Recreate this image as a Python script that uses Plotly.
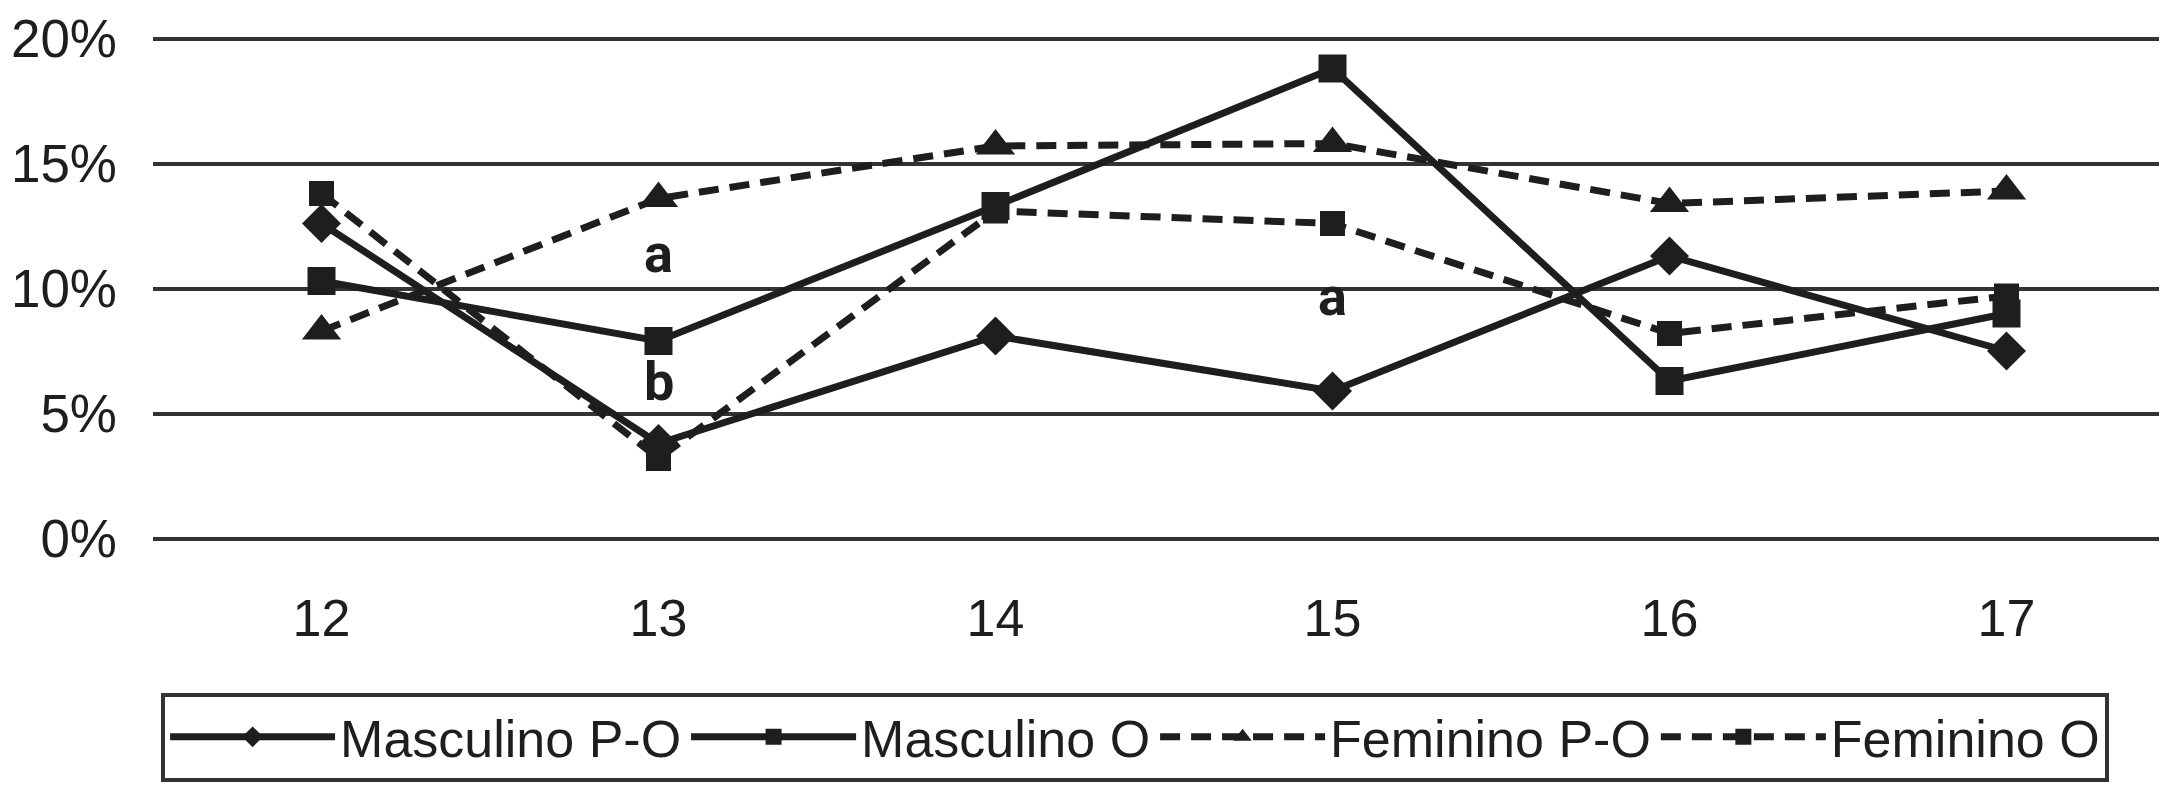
import plotly.graph_objects as go

ages = ["12", "13", "14", "15", "16", "17"]
masc_po = [12.6, 3.8, 8.1, 5.9, 11.3, 7.5]
masc_o = [10.3, 7.9, 13.3, 18.8, 6.3, 9.0]
fem_po = [8.3, 13.6, 15.7, 15.8, 13.4, 13.9]
fem_o = [13.8, 3.2, 13.1, 12.6, 8.2, 9.7]
y_ticks = [0, 5, 10, 15, 20]
y_tick_labels = ["0%", "5%", "10%", "15%", "20%"]
notes = [("13", 11.4, "a"), ("13", 6.3, "b"), ("15", 9.7, "a")]

INK = "#1e1e1e"
FONT = "Liberation Sans"
DASH = "20px,11px"

fig = go.Figure()
fig.add_trace(go.Scatter(x=ages, y=masc_po, name="Masculino P-O", mode="lines+markers",
                         line=dict(color=INK, width=7),
                         marker=dict(symbol="diamond", size=30, color=INK)))
fig.add_trace(go.Scatter(x=ages, y=masc_o, name="Masculino O", mode="lines+markers",
                         line=dict(color=INK, width=7),
                         marker=dict(symbol="square", size=28, color=INK)))
fig.add_trace(go.Scatter(x=ages, y=fem_po, name="Feminino P-O", mode="lines+markers",
                         line=dict(color=INK, width=7, dash=DASH),
                         marker=dict(symbol="triangle-up", size=34, color=INK)))
fig.add_trace(go.Scatter(x=ages, y=fem_o, name="Feminino O", mode="lines+markers",
                         line=dict(color=INK, width=7, dash=DASH),
                         marker=dict(symbol="square", size=25, color=INK)))

for xv, yv, t in notes:
    fig.add_annotation(x=ages.index(xv), y=yv, xref="x", yref="y",
                       text=t, showarrow=False,
                       font=dict(size=54, color=INK, family="Roboto", weight=700))

fig.update_layout(
    width=2167, height=795,
    margin=dict(l=145, r=0, t=28, b=262),
    paper_bgcolor="white", plot_bgcolor="white",
    font=dict(family=FONT, size=50, color=INK),
    showlegend=True,
    legend=dict(orientation="h", x=0.004, xanchor="left", y=-0.30, yanchor="top",
                bordercolor="#333333", borderwidth=4, bgcolor="white",
                font=dict(size=52, family=FONT, color=INK),
                itemwidth=165, tracegroupgap=0),
)
fig.update_xaxes(type="category", range=[-0.5, 5.5], showgrid=False, zeroline=False,
                 showline=False, ticks="", ticklabelstandoff=42,
                 tickfont=dict(size=52, family=FONT, color=INK))
fig.update_yaxes(range=[-0.1, 20.1], tickvals=y_ticks, ticktext=y_tick_labels,
                 showgrid=True, gridcolor="#333333", gridwidth=4, zeroline=False,
                 showline=False, ticks="", ticklabelstandoff=35,
                 ticklabeloverflow="allow",
                 tickfont=dict(size=53, family=FONT, color=INK))

fig.write_html("out.html")
